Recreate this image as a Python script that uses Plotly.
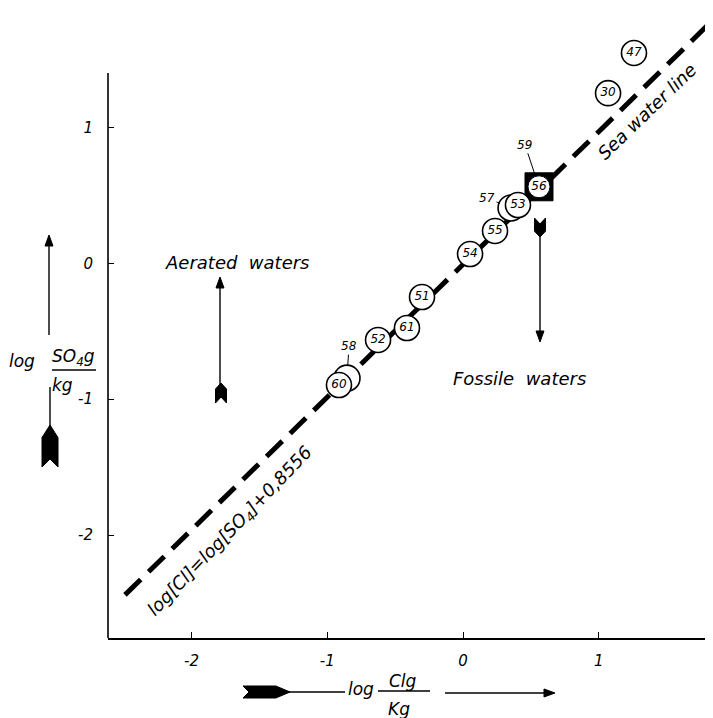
import math
import plotly.graph_objects as go

# ---------------- data ----------------
main_ids = ["47", "30", "53", "55", "54", "51", "61", "52", "60"]
main_cl = [1.260, 1.069, 0.405, 0.236, 0.052, -0.302, -0.413, -0.626, -0.914]
main_so4 = [1.548, 1.252, 0.429, 0.238, 0.068, -0.248, -0.476, -0.564, -0.896]

back_ids = ["57", "58"]
back_cl = [0.354, -0.855]
back_so4 = [0.407, -0.845]

sq_outer_id = "59"
sq_inner_id = "56"
sq_cl = [0.560]
sq_so4 = [0.563]

line_cl = [-2.491, 1.842]
line_so4 = [-2.440, 1.790]

x_ticks = [-2, -1, 0, 1]
x_ticklabels = ["-2", "-1", "0", "1"]
y_ticks = [-2, -1, 0, 1]
y_ticklabels = ["-2", "-1", "0", "1"]

# ---------------- layout geometry (page pixels) ----------------
OFF = 8                       # page body margin
PAGE_W, PAGE_H = 713, 718
W, H = PAGE_W - OFF, PAGE_H - OFF
PL, PR, PT, PB = 108, 713, 8, 638   # plot area in page pixels
ML, MR, MT, MB = PL - OFF, PAGE_W - PR, PT - OFF, PAGE_H - PB
X0, XU = 463.0, 135.7   # page pixel of x=0, pixels per unit
Y0, YU = 263.3, 135.9
x_range = [(PL - X0) / XU, (PR - X0) / XU]
y_range = [(Y0 - PB) / YU, (Y0 - PT) / YU]

FONT = "DejaVu Sans"
INK = "black"


def pp(px, py):
    """page pixel -> paper"""
    return (px - PL) / (PR - PL), (PB - py) / (PB - PT)


def path_str(pts):
    s = ""
    for i, (a, b) in enumerate(pts):
        u, v = pp(a, b)
        s += ("M" if i == 0 else "L") + f"{u:.5f},{v:.5f} "
    return s + "Z"


def fletch(front, direction, L, Wd, N):
    fx, fy = front
    h = Wd / 2
    if direction == "up":
        pts = [(fx, fy), (fx + h, fy + 0.3 * L), (fx + h, fy + L), (fx, fy + L - N),
               (fx - h, fy + L), (fx - h, fy + 0.3 * L)]
    elif direction == "down":
        pts = [(fx, fy), (fx + h, fy - 0.3 * L), (fx + h, fy - L), (fx, fy - L + N),
               (fx - h, fy - L), (fx - h, fy - 0.3 * L)]
    else:  # right
        pts = [(fx, fy), (fx - 0.3 * L, fy - h), (fx - L, fy - h), (fx - L + N, fy),
               (fx - L, fy + h), (fx - 0.3 * L, fy + h)]
    return dict(type="path", xref="paper", yref="paper", path=path_str(pts),
                fillcolor=INK, line=dict(color=INK, width=1), layer="above")


def pline(x1, y1, x2, y2, w=1.3):
    a, b = pp(x1, y1)
    c, d = pp(x2, y2)
    return dict(type="line", xref="paper", yref="paper", x0=a, y0=b, x1=c, y1=d,
                line=dict(color=INK, width=w), layer="above")


def arrow_shapes(tip, tail, hl=11, hw=8):
    tx, ty = tip
    sx, sy = tail
    d = math.hypot(tx - sx, ty - sy)
    ux, uy = (tx - sx) / d, (ty - sy) / d
    bx, by = tx - ux * hl, ty - uy * hl
    nx, ny = -uy, ux
    head = [(tx, ty), (bx + nx * hw / 2, by + ny * hw / 2), (bx - nx * hw / 2, by - ny * hw / 2)]
    return [pline(sx, sy, bx + ux, by + uy, 1.4),
            dict(type="path", xref="paper", yref="paper", path=path_str(head),
                 fillcolor=INK, line=dict(color=INK, width=1), layer="above")]


def ptext(px, py, text, size=17, angle=0, italic=True):
    u, v = pp(px, py)
    return dict(x=u, y=v, xref="paper", yref="paper", text=text, showarrow=False,
                xanchor="center", yanchor="middle",
                textangle=angle, font=dict(family=FONT, size=size, color=INK,
                                           style="italic" if italic else "normal"))


fig = go.Figure()

# sea water line
fig.add_trace(go.Scatter(x=line_cl, y=line_so4, mode="lines",
                         line=dict(color=INK, width=5, dash="22px,11px"),
                         hoverinfo="skip", showlegend=False))

# hidden-behind circles
fig.add_trace(go.Scatter(x=back_cl, y=back_so4, mode="markers",
                         marker=dict(size=26, color="white", line=dict(color=INK, width=1.6)),
                         showlegend=False))

# square (59) with circle 56
fig.add_trace(go.Scatter(x=sq_cl, y=sq_so4, mode="markers",
                         marker=dict(symbol="square", size=28, color=INK,
                                     line=dict(color=INK, width=1)),
                         showlegend=False))
fig.add_trace(go.Scatter(x=sq_cl, y=sq_so4, mode="markers+text", text=[sq_inner_id],
                         textposition="middle center",
                         textfont=dict(family=FONT, size=12, color=INK, style="italic"),
                         marker=dict(size=22, color="white", line=dict(color=INK, width=1)),
                         showlegend=False))

# main circles
fig.add_trace(go.Scatter(x=main_cl, y=main_so4, mode="markers+text", text=main_ids,
                         textposition="middle center",
                         textfont=dict(family=FONT, size=12, color=INK, style="italic"),
                         marker=dict(size=25, color="white", line=dict(color=INK, width=1.6)),
                         showlegend=False))

annotations = []
shapes = []


def leader(xd, yd, text, dx, dy):
    return dict(x=xd, y=yd, xref="x", yref="y", text=text, showarrow=True,
                ax=dx, ay=dy, arrowhead=0, arrowwidth=1, arrowcolor=INK, standoff=12,
                font=dict(family=FONT, size=12, color=INK, style="italic"))


annotations.append(leader(back_cl[0], back_so4[0], back_ids[0], -24, -10))
annotations.append(leader(back_cl[1], back_so4[1], back_ids[1], 2, -32))
annotations.append(leader(sq_cl[0], sq_so4[0], sq_outer_id, -14, -42))

# rotated texts
annotations.append(ptext(647, 112, "Sea water line", size=18, angle=-44))
annotations.append(ptext(230, 532, "log[Cl]=log[SO<sub>4</sub>]+0,8556", size=18, angle=-46))

# region labels
annotations.append(ptext(237, 262, "Aerated  waters", size=18))
annotations.append(ptext(519, 378, "Fossile  waters", size=18))

# aerated arrow
shapes += arrow_shapes((220, 277), (220, 386))
shapes.append(fletch((221, 383), "up", 20, 11, 6))
# fossil arrow
shapes += arrow_shapes((540, 342), (540, 234))
shapes.append(fletch((540, 237), "down", 19, 11, 6))

# y axis title with arrows
shapes += arrow_shapes((49, 235), (49, 335))
shapes.append(pline(50, 387, 50, 428, 1.4))
shapes.append(fletch((50, 425), "up", 42, 16, 8))
annotations.append(ptext(22, 361, "log", size=17))
annotations.append(ptext(73, 357, "SO<sub>4</sub>g", size=17))
shapes.append(pline(52, 370, 96, 370, 1.5))
annotations.append(ptext(62, 385, "kg", size=17))

# x axis title with arrows
shapes.append(fletch((290, 692), "right", 47, 12, 6))
shapes.append(pline(288, 692, 345, 692, 1.4))
annotations.append(ptext(361, 689, "log", size=17))
annotations.append(ptext(403, 681, "Clg", size=17))
shapes.append(pline(378, 691, 430, 691, 1.5))
annotations.append(ptext(399, 709, "Kg", size=17))
shapes += arrow_shapes((555, 693), (445, 693))

# y axis line (stops below the top)
shapes.append(pline(108, 73, 108, 638, 1.6))

fig.update_layout(
    width=W, height=H,
    margin=dict(l=ML, r=MR, t=MT, b=MB, pad=0),
    paper_bgcolor="white", plot_bgcolor="white",
    showlegend=False,
    annotations=annotations, shapes=shapes,
    xaxis=dict(range=x_range, tickvals=x_ticks, ticktext=x_ticklabels,
               ticks="inside", ticklen=6, tickcolor=INK, tickwidth=1.2,
               showline=True, linecolor=INK, linewidth=1.6, showgrid=False,
               zeroline=False, ticklabelstandoff=8,
               tickfont=dict(family=FONT, size=15, color=INK, style="italic")),
    yaxis=dict(range=y_range, tickvals=y_ticks, ticktext=y_ticklabels,
               ticks="inside", ticklen=6, tickcolor=INK, tickwidth=1.2,
               showline=False, showgrid=False, zeroline=False, ticklabelstandoff=14,
               tickfont=dict(family=FONT, size=15, color=INK, style="italic")),
)

fig.write_html("out.html")
